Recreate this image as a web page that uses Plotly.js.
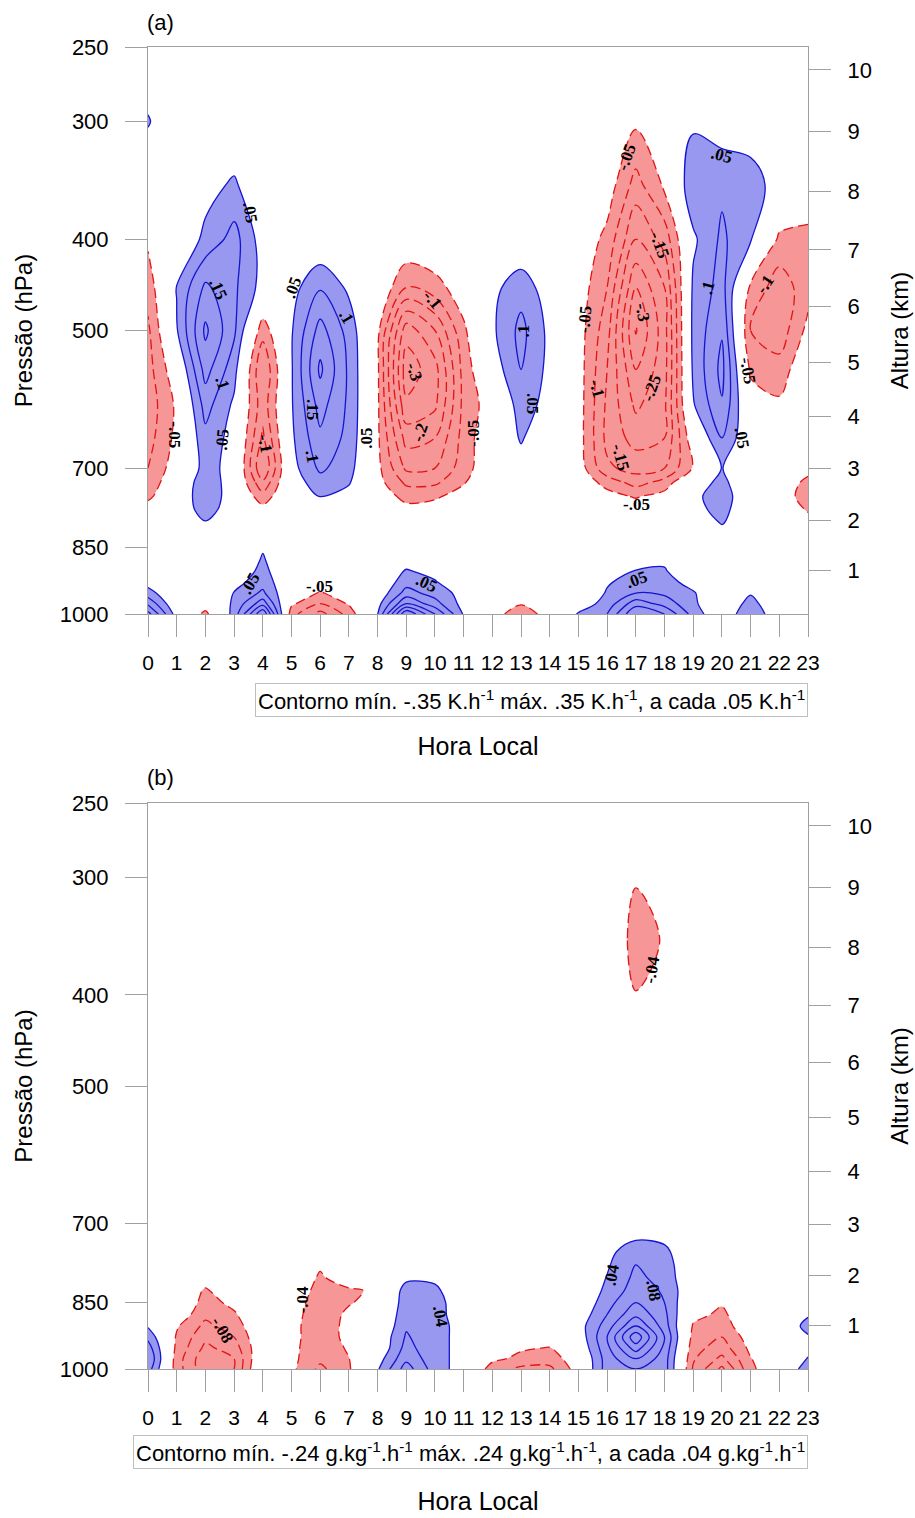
<!DOCTYPE html>
<html>
<head>
<meta charset="utf-8">
<script src="https://cdn.plot.ly/plotly-3.0.1.min.js"></script>
<style>
html,body{margin:0;padding:0;background:#fff;}
#chart{width:915px;height:1518px;}
</style>
</head>
<body>
<div id="chart"></div>
<script>
// ---------------- axes / categories ----------------
const hours = [0,1,2,3,4,5,6,7,8,9,10,11,12,13,14,15,16,17,18,19,20,21,22,23];
const levels = [1000,975,950,925,900,875,850,825,800,775,750,725,700,650,600,550,500,450,400,350,300,250];
const pressureTicks = [250,300,400,500,700,850,1000];
const altitudeKm = [1,2,3,4,5,6,7,8,9,10];

// contour settings
const stepA = 0.05, maxA = 0.35;
const stepB = 0.04, maxB = 0.24;

// ---------------- panel (a): heating rate, K/h (rows = pressure levels, columns = hours 0..23) ----------------
const dT1000 = [0.22,0.025,-0.065,0.07,0.3,-0.08,-0.17,-0.08,0.048,0.35,0.2,0.045,-0.02,-0.09,-0.02,0.055,0.1,0.25,0.2,0.08,0,0.1,0,0];
const dT975  = [0.14,0,-0.02,0.06,0.18,-0.04,-0.1,-0.045,0.03,0.2,0.12,0.03,-0.01,-0.045,0,0.02,0.07,0.18,0.13,0.06,0,0.07,0,0];
const dT950  = [0.07,0,0,0.052,0.11,-0.01,-0.055,-0.02,0.01,0.12,0.08,0.03,0,-0.01,0,0,0.055,0.1,0.09,0.055,0,0.045,0,0];
const dT925  = [0.03,0,0,0.03,0.08,0,-0.02,0,0,0.08,0.055,0,0,0,0,0,0.045,0.07,0.07,0.03,0,0.02,0,0];
const dT900  = [0.01,0,0,0.01,0.065,0,0,0,0,0.055,0.03,0,0,0,0,0,0.02,0.052,0.055,0,0,0,0,0];
const dT875  = [0,0,0,0,0.055,0,0,0,0,0.02,0.01,0,0,0,0,0,0,0.03,0.04,0,0,0,0,0];
const dT850  = [0,0,0,0,0.045,0,0,0,0,0,0,0,0,0,0,0,0,0,0,0,0,0,0,0];
const dT825  = [0,0,0,0,0,0,0,0,0,0,0,0,0,0,0,0,0,0,0,0,0.02,0,0,0];
const dT800  = [0,0,0.045,0,0,0,0,0,0,0,0,0,0,0,0,0,0,0,0,0,0.055,0,0,-0.03];
const dT775  = [-0.03,0,0.08,0.01,-0.03,0,0,0,0,-0.03,-0.02,0,0,0,0,0,0,-0.02,0,0.03,0.07,0,-0.01,-0.055];
const dT750  = [-0.06,-0.005,0.095,0.015,-0.08,0.01,0.052,0.03,-0.01,-0.07,-0.06,-0.02,0,0,0,0,-0.03,-0.055,-0.03,0.035,0.08,0,-0.025,-0.07];
const dT725  = [-0.08,-0.01,0.09,0.017,-0.14,0.02,0.08,0.055,-0.03,-0.11,-0.11,-0.055,0,0,0,-0.01,-0.07,-0.12,-0.08,0.02,0.065,0,-0.01,-0.065];
const dT700  = [-0.1,-0.02,0.07,0.03,-0.2,0.03,0.11,0.07,-0.035,-0.16,-0.15,-0.075,0,0.03,0,-0.02,-0.14,-0.17,-0.15,-0.045,0.052,0,0,-0.03];
const dT650  = [-0.12,-0.035,0.085,0.03,-0.16,0.04,0.14,0.085,-0.04,-0.22,-0.2,-0.08,0,0.055,0.01,-0.025,-0.165,-0.22,-0.2,-0.01,0.1,0,0,0];
const dT600  = [-0.13,-0.04,0.12,0.04,-0.13,0.045,0.17,0.09,-0.04,-0.29,-0.26,-0.085,-0.02,0.075,0.03,-0.025,-0.16,-0.26,-0.21,0.045,0.145,-0.02,-0.04,0];
const dT550  = [-0.12,-0.01,0.17,0.07,-0.15,0.045,0.21,0.09,-0.04,-0.33,-0.27,-0.08,0.02,0.1,0.035,-0.025,-0.15,-0.3,-0.22,0.06,0.165,-0.06,-0.08,0];
const dT500  = [-0.11,0.045,0.21,0.11,-0.08,0.045,0.17,0.08,-0.035,-0.28,-0.2,-0.06,0.04,0.115,0.035,-0.025,-0.13,-0.355,-0.22,0.065,0.145,-0.1,-0.13,-0.035];
const dT450  = [-0.08,0.052,0.16,0.11,0.03,0.03,0.095,0.04,0,-0.1,-0.07,-0.02,0.035,0.08,0.02,-0.02,-0.1,-0.3,-0.2,0.06,0.12,-0.06,-0.13,-0.07];
const dT400  = [-0.04,0,0.063,0.12,0.024,0,0,0,0,0,0,0,0,0,0,-0.01,-0.065,-0.2,-0.13,0.04,0.11,0.055,-0.06,-0.065];
const dT350  = [0,0,0.03,0.058,0,0,0,0,0,0,0,0,0,0,0,0,-0.02,-0.12,-0.04,0.09,0.09,0.08,0.02,-0.01];
const dT300  = [0.055,0,0,0,0,0,0,0,0,0,0,0,0,0,0,0,0,-0.04,0,0.04,0.02,0.01,0,0];
const dT250  = [0,0,0,0,0,0,0,0,0,0,0,0,0,0,0,0,0,0,0,0,0,0,0,0];

// ---------------- panel (b): moistening rate, g/kg/h ----------------
const dQ1000 = [0.1,-0.06,-0.15,-0.12,0.02,-0.03,-0.09,-0.045,0.035,0.14,0.06,0.02,-0.06,-0.09,-0.09,-0.02,0.1,0.12,0.1,-0.085,-0.17,-0.05,0,0.06];
const dQ975  = [0.12,-0.06,-0.15,-0.12,0.01,-0.03,-0.07,-0.041,0.02,0.11,0.055,0.025,-0.03,-0.05,-0.06,-0.015,0.1,0.16,0.1,-0.075,-0.13,-0.042,0,0.042];
const dQ950  = [0.1,-0.05,-0.13,-0.1,0,-0.03,-0.065,-0.035,0,0.095,0.05,0.03,-0.01,-0.035,-0.042,0,0.11,0.22,0.11,-0.065,-0.1,-0.03,0,0.03];
const dQ925  = [0.07,-0.045,-0.11,-0.08,0,-0.03,-0.06,-0.03,0,0.085,0.05,0.03,0,-0.01,-0.02,0.01,0.12,0.27,0.12,-0.055,-0.08,-0.02,0,0.035];
const dQ900  = [0.035,-0.035,-0.09,-0.06,0,-0.03,-0.06,-0.03,-0.01,0.075,0.05,0.03,0,0,0,0.02,0.1,0.2,0.1,-0.045,-0.065,0,0,0.055];
const dQ875  = [0,-0.01,-0.07,-0.045,0,-0.03,-0.055,-0.035,-0.02,0.07,0.05,0.025,0,0,0,0.01,0.08,0.15,0.09,-0.025,-0.05,0,0,0.035];
const dQ850  = [0,0,-0.055,-0.03,0,-0.025,-0.055,-0.042,-0.03,0.065,0.055,0.015,0,0,0,0,0.065,0.12,0.08,-0.01,-0.035,0,0,0];
const dQ825  = [0,0,-0.045,-0.01,0,-0.02,-0.05,-0.045,-0.035,0.06,0.05,0,0,0,0,0,0.05,0.1,0.075,0,0,0,0,0];
const dQ800  = [0,0,-0.02,0,0,-0.01,-0.045,-0.02,-0.02,0.03,0.03,0,0,0,0,0,0.042,0.09,0.065,0,0,0,0,0];
const dQ775  = [0,0,0,0,0,0,-0.035,0,0,0,0,0,0,0,0,0,0.035,0.08,0.06,0,0,0,0,0];
const dQ750  = [0,0,0,0,0,0,0,0,0,0,0,0,0,0,0,0,0.03,0.06,0.05,0,0,0,0,0];
const dQ725  = [0,0,0,0,0,0,0,0,0,0,0,0,0,0,0,0,0.01,0.035,0.03,0,0,0,0,0];
const dQ700  = [0,0,0,0,0,0,0,0,0,0,0,0,0,0,0,0,0,0,0,0,0,0,0,0];
const dQ650  = [0,0,0,0,0,0,0,0,0,0,0,0,0,0,0,0,0,0,0,0,0,0,0,0];
const dQ600  = [0,0,0,0,0,0,0,0,0,0,0,0,0,0,0,0,0,0,0,0,0,0,0,0];
const dQ550  = [0,0,0,0,0,0,0,0,0,0,0,0,0,0,0,0,0,0,0,0,0,0,0,0];
const dQ500  = [0,0,0,0,0,0,0,0,0,0,0,0,0,0,0,0,0,0,0,0,0,0,0,0];
const dQ450  = [0,0,0,0,0,0,0,0,0,0,0,0,0,0,0,0,0,0,0,0,0,0,0,0];
const dQ400  = [0,0,0,0,0,0,0,0,0,0,0,0,0,0,0,0,0,-0.038,-0.02,0,0,0,0,0];
const dQ350  = [0,0,0,0,0,0,0,0,0,0,0,0,0,0,0,0,0.02,-0.065,-0.035,0,0,0,0,0];
const dQ300  = [0,0,0,0,0,0,0,0,0,0,0,0,0,0,0,0,0,-0.035,-0.01,0,0,0,0,0];
const dQ250  = [0,0,0,0,0,0,0,0,0,0,0,0,0,0,0,0,0,0,0,0,0,0,0,0];

const zA = [dT1000,dT975,dT950,dT925,dT900,dT875,dT850,dT825,dT800,dT775,dT750,dT725,dT700,dT650,dT600,dT550,dT500,dT450,dT400,dT350,dT300,dT250];
const zB = [dQ1000,dQ975,dQ950,dQ925,dQ900,dQ875,dQ850,dQ825,dQ800,dQ775,dQ750,dQ725,dQ700,dQ650,dQ600,dQ550,dQ500,dQ450,dQ400,dQ350,dQ300,dQ250];

// contour line labels: [text, hour, hPa, angle]
const labelsA = [
 ['.05',3.55,375,80],['.15',2.44,451,65],['.1',2.58,568,70],['.05',2.58,654,-85],['-.05',0.94,646,90],
 ['-.1',4.08,659,80],['.05',5.05,450,-70],['.1',6.93,484,60],['.15',5.71,607,90],['.1',5.71,681,80],
 ['.05',7.63,650,-90],['-.1',9.9,464,50],['-.3',9.27,553,70],['-.2',9.48,642,-70],['-.05',11.36,642,-90],
 ['.1',13.1,500,-90],['.05',13.42,597,90],['-.05',16.69,327,-70],['-.15',17.84,406,70],['-.3',17.25,478,80],
 ['-.05',15.23,487,-85],['-.25',17.56,575,-70],['-.1',15.65,576,75],['-.15',16.45,681,75],['-.05',17.04,766,0],
 ['.05',20.0,326,15],['.1',19.51,450,-75],['.05',20.7,649,80],['-.1',21.5,447,-55],['-.05',20.91,551,80],
 ['.05',3.55,927,-60],['-.05',5.99,936,0],['.05',9.72,927,25],['.05',17.04,920,-20]
];
const labelsB = [
 ['-.08',2.61,909,60],['-.04',5.37,845,-90],['.04',10.18,880,80],['.04',16.17,794,-80],['.08',17.6,824,80],['-.04',17.56,376,-80]
];

// ---------------- styling ----------------
const BLUE_FILL = 'rgb(152,152,240)';
const RED_FILL  = 'rgb(246,150,150)';
const BLUE_LINE = 'rgb(20,20,205)';
const RED_LINE  = 'rgb(225,20,20)';
const FRAME = 'rgb(160,160,160)';
const FONT = 'Liberation Sans, Arial, Helvetica, sans-serif';

// standard atmosphere: altitude (km) -> pressure (hPa) for the right axis
const altPressure = altitudeKm.map(h => 1013.25 * Math.pow(1 - 2.25577e-5 * h * 1000, 5.25588));

function panelTraces(z, xa, ya, step, vmax) {
  const base = {type:'contour', x:hours, y:levels, z:z, xaxis:xa, yaxis:ya, showscale:false, hoverinfo:'skip'};
  return [
    // plotly shades the region that fails the constraint, so '<' step shades z >= step
    Object.assign({}, base, {contours:{type:'constraint', operation:'<', value:step}, fillcolor:BLUE_FILL, line:{width:0, smoothing:1}}),
    Object.assign({}, base, {contours:{type:'constraint', operation:'>', value:-step}, fillcolor:RED_FILL, line:{width:0, smoothing:1}}),
    Object.assign({}, base, {autocontour:false, contours:{coloring:'none', start:step, end:vmax, size:step, showlabels:false}, line:{color:BLUE_LINE, width:1.3, smoothing:1}}),
    Object.assign({}, base, {autocontour:false, contours:{coloring:'none', start:-vmax, end:-step*0.999, size:step, showlabels:false}, line:{color:RED_LINE, width:1.3, dash:'10px,5px', smoothing:1}})
  ];
}

const traces = [].concat(
  panelTraces(zA, 'x', 'y', stepA, maxA),
  panelTraces(zB, 'x2', 'y2', stepB, maxB),
  [{type:'scatter', x:[], y:[], xaxis:'x', yaxis:'y3', showlegend:false, hoverinfo:'skip'},
   {type:'scatter', x:[], y:[], xaxis:'x2', yaxis:'y4', showlegend:false, hoverinfo:'skip'}]
);

const pRange = [Math.log10(1000), Math.log10(250)];
const domA = [(1369-614)/1322, 1];
const domB = [0, (1369-803)/1322];

function xAxis(anchor) {
  return {anchor:anchor, domain:[0,1], range:[0,23], tickmode:'array', tickvals:hours, ticktext:hours.map(String),
    ticks:'outside', ticklen:22, tickwidth:1, tickcolor:FRAME, showline:true, linecolor:FRAME, linewidth:1, mirror:true,
    showgrid:false, zeroline:false, tickfont:{size:21, family:FONT, color:'black'}, ticklabelstandoff:8,
    title:{text:'Hora Local', font:{size:25, family:FONT, color:'black'}, standoff:64}};
}
function leftAxis(anchor, dom) {
  return {anchor:anchor, domain:dom, type:'log', range:pRange, tickmode:'array', tickvals:pressureTicks, ticktext:pressureTicks.map(String),
    ticks:'outside', ticklen:22, tickwidth:1, tickcolor:FRAME, showline:true, linecolor:FRAME, linewidth:1, mirror:true,
    showgrid:false, zeroline:false, tickfont:{size:22, family:FONT, color:'black'}, ticklabelstandoff:12,
    title:{text:'Pressão (hPa)', font:{size:24, family:FONT, color:'black'}, standoff:20}};
}
function rightAxis(anchor, over) {
  return {anchor:anchor, overlaying:over, side:'right', type:'log', range:pRange, tickmode:'array', tickvals:altPressure, ticktext:altitudeKm.map(String),
    ticks:'outside', ticklen:22, tickwidth:1, tickcolor:FRAME, showline:false, showgrid:false, zeroline:false,
    tickfont:{size:22, family:FONT, color:'black'}, ticklabelstandoff:12,
    title:{text:'Altura (km)', font:{size:24, family:FONT, color:'black'}, standoff:20}};
}

function labelAnn(list, xref, yref) {
  return list.map(l => ({xref:xref, yref:yref, x:l[1], y:Math.log10(l[2]), text:'<b>'+l[0]+'</b>', textangle:l[3],
    showarrow:false, font:{family:'Liberation Serif, Times New Roman, serif', size:17, color:'black'}}));
}

const annotations = [].concat(
  labelAnn(labelsA, 'x', 'y'),
  labelAnn(labelsB, 'x2', 'y2'),
  [
    {xref:'paper', yref:'paper', x:(160-148)/660, xanchor:'center', y:(1369-22)/1322, yanchor:'middle', text:'(a)', showarrow:false, font:{size:22, family:FONT, color:'black'}},
    {xref:'paper', yref:'paper', x:(160-148)/660, xanchor:'center', y:(1369-777)/1322, yanchor:'middle', text:'(b)', showarrow:false, font:{size:22, family:FONT, color:'black'}},
    {xref:'paper', yref:'paper', x:1, xanchor:'right', y:(1369-700)/1322, yanchor:'middle', showarrow:false,
      text:'Contorno mín. -.35 K.h<sup>-1</sup> máx. .35 K.h<sup>-1</sup>, a cada .05 K.h<sup>-1</sup>',
      font:{size:22, family:FONT, color:'black'}, bordercolor:'rgb(190,190,190)', borderwidth:1, borderpad:2, bgcolor:'white'},
    {xref:'paper', yref:'paper', x:1, xanchor:'right', y:(1369-1452)/1322, yanchor:'middle', showarrow:false,
      text:'Contorno mín. -.24 g.kg<sup>-1</sup>.h<sup>-1</sup> máx. .24 g.kg<sup>-1</sup>.h<sup>-1</sup>, a cada .04 g.kg<sup>-1</sup>.h<sup>-1</sup>',
      font:{size:22, family:FONT, color:'black'}, bordercolor:'rgb(190,190,190)', borderwidth:1, borderpad:2, bgcolor:'white'}
  ]
);

const layout = {
  width:915, height:1518,
  margin:{l:148, r:107, t:47, b:149},
  paper_bgcolor:'white', plot_bgcolor:'white',
  showlegend:false,
  font:{family:FONT, color:'black'},
  xaxis:xAxis('y'),
  xaxis2:xAxis('y2'),
  yaxis:leftAxis('x', domA),
  yaxis2:leftAxis('x2', domB),
  yaxis3:rightAxis('x', 'y'),
  yaxis4:rightAxis('x2', 'y2'),
  annotations:annotations
};

Plotly.newPlot('chart', traces, layout, {staticPlot:true, displayModeBar:false});
</script>
</body>
</html>
